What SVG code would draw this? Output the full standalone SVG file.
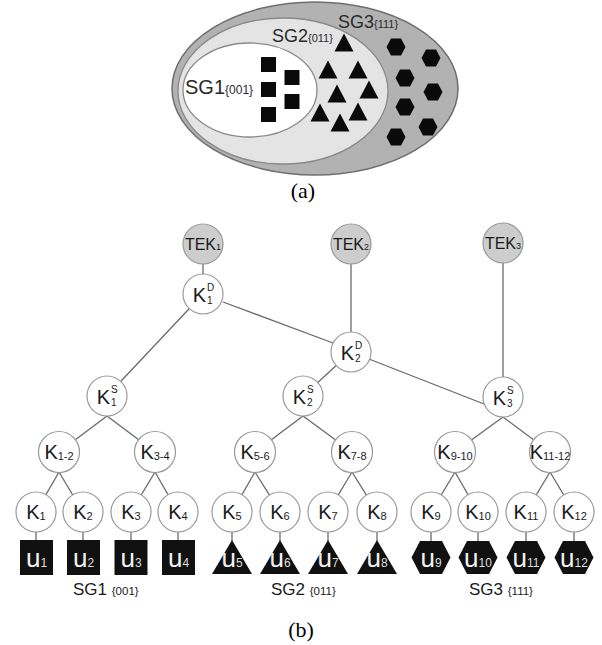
<svg xmlns="http://www.w3.org/2000/svg" width="602" height="645" viewBox="0 0 602 645">
<style>
text{font-family:"Liberation Sans",Arial,sans-serif;fill:#1a1a1a}
.cap{font-family:"Liberation Serif","Times New Roman",serif;font-size:22px;fill:#000}
.n{fill:#fff;stroke:#999;stroke-width:1.2}
.tek{fill:#cdcdcd;stroke:#999;stroke-width:1.2}
.k{font-size:20px;text-anchor:middle}
.ke{font-size:20px;text-anchor:end}
.sub{font-size:11px}
.sc{font-size:10px}
.u{fill:#111}
.ut{font-size:26px;text-anchor:middle;fill:#f2f2f2}
.us{font-size:12px;fill:#ddd}
.lbl{font-size:17px;fill:#1a1a1a}
.lbs{font-size:11.5px}
.shp{fill:#0a0a0a}
#edges line{stroke:#6a6a6a;stroke-width:1.3}
</style>
<defs>
<rect id="sq" x="-7.5" y="-7.5" width="15" height="15"/>
<path id="tri" d="M0,-9.5 L9.5,8.5 L-9.5,8.5Z"/>
<path id="hex" d="M-9.5,0 L-5,-8.5 L5,-8.5 L9.5,0 L5,8.5 L-5,8.5Z"/>
<path id="utri" d="M0,-17 L20,17 L-20,17Z"/>
<path id="uhex" d="M-19.5,0 L-11,-16.5 L11,-16.5 L19.5,0 L11,16.5 L-11,16.5Z"/>
<rect id="usq" x="-16.5" y="-17.5" width="33" height="35"/>
</defs>

<!-- (a) -->
<g id="sg3">
<ellipse cx="315" cy="88.5" rx="143" ry="86.5" fill="#b2b2b2" stroke="#6e6e6e" stroke-width="1.5"/>
</g>
<g id="sg2">
<ellipse cx="283" cy="91" rx="105" ry="73" fill="#e4e4e4" stroke="#8a8a8a" stroke-width="1.3"/>
</g>
<g id="sg1">
<ellipse cx="250" cy="90" rx="67" ry="47" fill="#fff" stroke="#8a8a8a" stroke-width="1.3"/>
</g>
<g id="a-labels">
<text x="185" y="94" style="font-size:20px;fill:#2a2a2a">SG1<tspan style="font-size:12px">{001}</tspan></text>
<text x="272" y="42" style="font-size:18px;fill:#2a2a2a">SG2<tspan style="font-size:11px">{011}</tspan></text>
<text x="338" y="28" style="font-size:18px;fill:#2a2a2a">SG3<tspan style="font-size:11px">{111}</tspan></text>
</g>
<g id="a-squares" class="shp">
<use href="#sq" x="268.5" y="64.5"/><use href="#sq" x="268.5" y="89.5"/><use href="#sq" x="268.5" y="114.5"/>
<use href="#sq" x="292" y="77.5"/><use href="#sq" x="292" y="101.5"/>
</g>
<g id="a-triangles" class="shp">
<use href="#tri" x="344" y="43"/><use href="#tri" x="328" y="70"/><use href="#tri" x="358" y="70"/>
<use href="#tri" x="337" y="94"/><use href="#tri" x="369" y="90"/><use href="#tri" x="320" y="113"/>
<use href="#tri" x="358" y="112"/><use href="#tri" x="340" y="123"/>
</g>
<g id="a-hexagons" class="shp">
<use href="#hex" x="396" y="47"/><use href="#hex" x="431" y="58"/><use href="#hex" x="405" y="78"/>
<use href="#hex" x="433" y="92"/><use href="#hex" x="405" y="107"/><use href="#hex" x="428" y="127"/>
<use href="#hex" x="396" y="137"/>
</g>
<text class="cap" x="303" y="198" text-anchor="middle">(a)</text>

<!-- (b) -->
<g id="edges">
<line x1="203" y1="244" x2="203" y2="294"/>
<line x1="351" y1="244" x2="351" y2="352"/>
<line x1="503" y1="243" x2="503" y2="397"/>
<line x1="203" y1="294" x2="107" y2="396"/>
<line x1="223" y1="302" x2="333" y2="343"/>
<line x1="351" y1="352" x2="303" y2="396"/>
<line x1="351" y1="352" x2="484" y2="404"/>
<line x1="107" y1="416" x2="59" y2="452"/><line x1="107" y1="416" x2="155" y2="452"/>
<line x1="303" y1="416" x2="255" y2="452"/><line x1="303" y1="416" x2="352" y2="452"/>
<line x1="503" y1="417" x2="455" y2="452"/><line x1="503" y1="417" x2="550" y2="452"/>
<line x1="59" y1="472" x2="36" y2="512"/><line x1="59" y1="472" x2="83" y2="512"/>
<line x1="155" y1="472" x2="131" y2="512"/><line x1="155" y1="472" x2="178" y2="512"/>
<line x1="255" y1="472" x2="232" y2="512"/><line x1="255" y1="472" x2="280" y2="512"/>
<line x1="352" y1="472" x2="328" y2="512"/><line x1="352" y1="472" x2="377" y2="512"/>
<line x1="455" y1="472" x2="431" y2="512"/><line x1="455" y1="472" x2="478" y2="512"/>
<line x1="550" y1="472" x2="526" y2="512"/><line x1="550" y1="472" x2="574" y2="512"/>
<line x1="36" y1="532" x2="36" y2="541"/><line x1="83" y1="532" x2="83" y2="541"/>
<line x1="131" y1="532" x2="131" y2="541"/><line x1="178" y1="532" x2="178" y2="541"/>
<line x1="232" y1="532" x2="232" y2="541"/><line x1="280" y1="532" x2="280" y2="541"/>
<line x1="328" y1="532" x2="328" y2="541"/><line x1="377" y1="532" x2="377" y2="541"/>
<line x1="431" y1="532" x2="431" y2="542"/><line x1="478" y1="532" x2="478" y2="542"/>
<line x1="526" y1="532" x2="526" y2="542"/><line x1="574" y1="532" x2="574" y2="542"/>
</g>

<g id="TEK1"><circle class="tek" cx="203" cy="244" r="20"/><text class="k" x="203" y="250" style="font-size:16px">TEK<tspan style="font-size:9px">1</tspan></text></g>
<g id="TEK2"><circle class="tek" cx="351" cy="244" r="20"/><text class="k" x="351" y="250" style="font-size:16px">TEK<tspan style="font-size:9px">2</tspan></text></g>
<g id="TEK3"><circle class="tek" cx="503" cy="243" r="20"/><text class="k" x="503" y="249" style="font-size:16px">TEK<tspan style="font-size:9px">3</tspan></text></g>

<g id="K1D"><circle class="n" cx="203" cy="294" r="20"/><text class="ke" x="206" y="302">K</text><text class="sc" x="207" y="291">D</text><text class="sc" x="207" y="304">1</text></g>
<g id="K2D"><circle class="n" cx="351" cy="352" r="20"/><text class="ke" x="354" y="360">K</text><text class="sc" x="355" y="349">D</text><text class="sc" x="355" y="362">2</text></g>
<g id="K1S"><circle class="n" cx="107" cy="396" r="20"/><text class="ke" x="110" y="404">K</text><text class="sc" x="111" y="393">S</text><text class="sc" x="111" y="406">1</text></g>
<g id="K2S"><circle class="n" cx="303" cy="396" r="20"/><text class="ke" x="306" y="404">K</text><text class="sc" x="307" y="393">S</text><text class="sc" x="307" y="406">2</text></g>
<g id="K3S"><circle class="n" cx="503" cy="397" r="20"/><text class="ke" x="506" y="405">K</text><text class="sc" x="507" y="394">S</text><text class="sc" x="507" y="407">3</text></g>

<g id="K1-2"><circle class="n" cx="59" cy="452" r="20.5"/><text class="k" x="59" y="459">K<tspan class="sub" dy="1">1-2</tspan></text></g>
<g id="K3-4"><circle class="n" cx="155" cy="452" r="20.5"/><text class="k" x="155" y="459">K<tspan class="sub" dy="1">3-4</tspan></text></g>
<g id="K5-6"><circle class="n" cx="255" cy="452" r="20.5"/><text class="k" x="255" y="459">K<tspan class="sub" dy="1">5-6</tspan></text></g>
<g id="K7-8"><circle class="n" cx="352" cy="452" r="20.5"/><text class="k" x="352" y="459">K<tspan class="sub" dy="1">7-8</tspan></text></g>
<g id="K9-10"><circle class="n" cx="455" cy="452" r="20.5"/><text class="k" x="455" y="459">K<tspan class="sub" dy="1">9-10</tspan></text></g>
<g id="K11-12"><circle class="n" cx="550" cy="452" r="20.5"/><text class="k" x="550" y="459">K<tspan class="sub" dy="1">11-12</tspan></text></g>

<g id="K1"><circle class="n" cx="36" cy="512" r="20"/><text class="k" x="36" y="519">K<tspan class="sub" dy="1">1</tspan></text></g>
<g id="K2"><circle class="n" cx="83" cy="512" r="20"/><text class="k" x="83" y="519">K<tspan class="sub" dy="1">2</tspan></text></g>
<g id="K3"><circle class="n" cx="131" cy="512" r="20"/><text class="k" x="131" y="519">K<tspan class="sub" dy="1">3</tspan></text></g>
<g id="K4"><circle class="n" cx="178" cy="512" r="20"/><text class="k" x="178" y="519">K<tspan class="sub" dy="1">4</tspan></text></g>
<g id="K5"><circle class="n" cx="232" cy="512" r="20"/><text class="k" x="232" y="519">K<tspan class="sub" dy="1">5</tspan></text></g>
<g id="K6"><circle class="n" cx="280" cy="512" r="20"/><text class="k" x="280" y="519">K<tspan class="sub" dy="1">6</tspan></text></g>
<g id="K7"><circle class="n" cx="328" cy="512" r="20"/><text class="k" x="328" y="519">K<tspan class="sub" dy="1">7</tspan></text></g>
<g id="K8"><circle class="n" cx="377" cy="512" r="20"/><text class="k" x="377" y="519">K<tspan class="sub" dy="1">8</tspan></text></g>
<g id="K9"><circle class="n" cx="431" cy="512" r="20"/><text class="k" x="431" y="519">K<tspan class="sub" dy="1">9</tspan></text></g>
<g id="K10"><circle class="n" cx="478" cy="512" r="20"/><text class="k" x="478" y="519">K<tspan class="sub" dy="1">10</tspan></text></g>
<g id="K11"><circle class="n" cx="526" cy="512" r="20"/><text class="k" x="526" y="519">K<tspan class="sub" dy="1">11</tspan></text></g>
<g id="K12"><circle class="n" cx="574" cy="512" r="20"/><text class="k" x="574" y="519">K<tspan class="sub" dy="1">12</tspan></text></g>

<g id="u1"><use href="#usq" class="u" x="36.5" y="557.5"/><text class="ut" x="36.5" y="567">u<tspan class="us">1</tspan></text></g>
<g id="u2"><use href="#usq" class="u" x="83.5" y="557.5"/><text class="ut" x="83.5" y="567">u<tspan class="us">2</tspan></text></g>
<g id="u3"><use href="#usq" class="u" x="131" y="557.5"/><text class="ut" x="131" y="567">u<tspan class="us">3</tspan></text></g>
<g id="u4"><use href="#usq" class="u" x="178.5" y="557.5"/><text class="ut" x="178.5" y="567">u<tspan class="us">4</tspan></text></g>
<g id="u5"><use href="#utri" class="u" x="232" y="557"/><text class="ut" x="232" y="567">u<tspan class="us">5</tspan></text></g>
<g id="u6"><use href="#utri" class="u" x="280" y="557"/><text class="ut" x="280" y="567">u<tspan class="us">6</tspan></text></g>
<g id="u7"><use href="#utri" class="u" x="328" y="557"/><text class="ut" x="328" y="567">u<tspan class="us">7</tspan></text></g>
<g id="u8"><use href="#utri" class="u" x="377" y="557"/><text class="ut" x="377" y="567">u<tspan class="us">8</tspan></text></g>
<g id="u9"><use href="#uhex" class="u" x="431" y="557.5"/><text class="ut" x="431" y="567">u<tspan class="us">9</tspan></text></g>
<g id="u10"><use href="#uhex" class="u" x="478" y="557.5"/><text class="ut" x="478" y="567">u<tspan class="us">10</tspan></text></g>
<g id="u11"><use href="#uhex" class="u" x="526" y="557.5"/><text class="ut" x="526" y="567">u<tspan class="us">11</tspan></text></g>
<g id="u12"><use href="#uhex" class="u" x="574" y="557.5"/><text class="ut" x="574" y="567">u<tspan class="us">12</tspan></text></g>

<g id="b-labels">
<text class="lbl" x="73" y="595">SG1 <tspan class="lbs">{001}</tspan></text>
<text class="lbl" x="271" y="595">SG2 <tspan class="lbs">{011}</tspan></text>
<text class="lbl" x="469" y="595">SG3 <tspan class="lbs">{111}</tspan></text>
</g>
<text class="cap" x="301" y="637" text-anchor="middle">(b)</text>
</svg>
